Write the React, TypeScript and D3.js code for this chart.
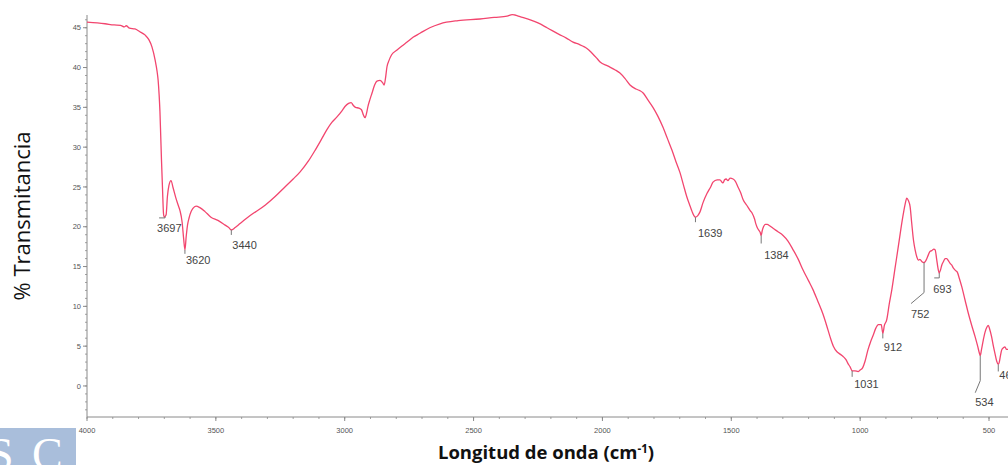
import React from "react";
import * as d3 from "d3";

// FTIR spectrum: wavenumber (cm-1) and % transmittance
const WAVENUMBERS = [
  4000, 3960, 3930, 3895, 3870, 3855, 3848, 3835, 3814, 3795, 3775, 3760, 3748, 3736, 3728, 3724, 3720, 3717,
  3714, 3711, 3707, 3703, 3700, 3697, 3693, 3688, 3682, 3674, 3666, 3655, 3645, 3639, 3631, 3625, 3620, 3615,
  3610, 3604, 3596, 3589, 3577, 3562, 3542, 3519, 3492, 3464, 3450, 3440, 3425, 3406, 3367, 3309, 3270, 3232,
  3200, 3173, 3140, 3115, 3090, 3069, 3050, 3030, 3010, 2999, 2985, 2975, 2968, 2958, 2945, 2935, 2927, 2921,
  2915, 2910, 2902, 2894, 2884, 2875, 2863, 2853, 2847, 2842, 2836, 2828, 2818, 2797, 2778, 2758, 2735, 2708,
  2670, 2630, 2560, 2475, 2420, 2370, 2350, 2340, 2320, 2280, 2250, 2215, 2170, 2140, 2114, 2090, 2070, 2060,
  2040, 2020, 2009, 1980, 1950, 1932, 1912, 1893, 1870, 1855, 1842, 1825, 1804, 1785, 1765, 1748, 1730, 1715,
  1699, 1686, 1672, 1660, 1652, 1645, 1639, 1630, 1621, 1610, 1594, 1580, 1571, 1555, 1544, 1536, 1532, 1526,
  1520, 1513, 1505, 1493, 1484, 1474, 1464, 1454, 1440, 1426, 1419, 1410, 1404, 1398, 1392, 1388, 1384, 1380,
  1375, 1368, 1361, 1350, 1338, 1320, 1299, 1280, 1260, 1240, 1222, 1200, 1183, 1165, 1144, 1130, 1117, 1104,
  1090, 1078, 1066, 1055, 1047, 1039, 1031, 1020, 1008, 1000, 990, 981, 970, 960, 949, 940, 929, 918, 912, 906,
  897, 887, 877, 865, 852, 842, 832, 825, 819, 813, 806, 800, 793, 786, 780, 774, 768, 760, 752, 748, 744, 735,
  729, 722, 714, 709, 703, 698, 693, 688, 683, 677, 670, 664, 657, 651, 645, 638, 630, 623, 615, 606, 593, 580,
  567, 554, 544, 538, 534, 529, 522, 515, 508, 503, 497, 490, 483, 477, 470, 464, 460, 455, 451, 444, 438, 432,
  426, 418, 410, 400,
];

const TRANSMITTANCE = [
  45.7, 45.6, 45.5, 45.35, 45.3, 45.1, 45.25, 44.95, 44.85, 44.5, 44.1, 43.5, 42.6, 41.0, 39.5, 38.4, 36.5, 34.5,
  31.5, 28.4, 24.8, 21.6, 21.2, 21.3, 21.5, 23.8, 25.2, 25.8, 24.9, 23.6, 22.6, 22.0, 20.6, 18.5, 17.1, 18.8,
  20.2, 21.1, 21.9, 22.3, 22.6, 22.4, 21.9, 21.2, 20.8, 20.2, 19.9, 19.6, 19.9, 20.4, 21.4, 22.7, 23.8, 25.0,
  26.0, 26.9, 28.3, 29.6, 31.0, 32.2, 33.1, 33.8, 34.6, 35.1, 35.5, 35.6, 35.3, 35.0, 34.9, 34.7, 34.0, 33.7,
  34.3, 35.1, 36.0, 36.8, 37.8, 38.3, 38.4, 38.1, 37.8, 38.6, 40.1, 40.9, 41.6, 42.2, 42.7, 43.2, 43.8, 44.3,
  45.0, 45.5, 45.9, 46.1, 46.3, 46.45, 46.65, 46.6, 46.4, 46.0, 45.6, 45.0, 44.2, 43.7, 43.2, 42.9, 42.6, 42.4,
  41.8, 41.1, 40.7, 40.2, 39.7, 39.3, 38.6, 37.8, 37.3, 37.1, 36.8, 36.0, 35.0, 33.9, 32.5, 31.1, 29.6, 28.2,
  26.8, 25.3, 23.7, 22.6, 21.9, 21.4, 21.2, 21.4, 21.9, 23.0, 24.2, 25.0, 25.6, 25.9, 25.9, 25.6, 25.5, 25.9,
  26.0, 25.8, 26.1, 26.0, 25.7, 25.0, 24.3, 23.4, 22.7, 22.0, 21.7, 21.0, 20.3, 19.8, 19.5, 19.3, 18.9, 19.5,
  20.0, 20.3, 20.3, 20.1, 19.8, 19.4, 18.9, 18.2, 17.1, 15.9, 14.6, 13.2, 12.1, 10.7, 9.0, 7.6, 6.2, 5.0,
  4.3, 4.0, 3.7, 3.3, 2.8, 2.4, 1.9, 1.9, 1.8, 2.0, 2.3, 3.1, 4.5, 5.5, 6.4, 7.2, 7.7, 7.7, 6.6, 7.6,
  8.3, 10.3, 12.1, 14.7, 17.5, 19.7, 21.7, 22.9, 23.6, 23.3, 22.5, 20.5, 18.3, 17.0, 16.2, 15.8, 15.9, 15.6, 15.5, 15.6, 15.8, 16.5,
  16.9, 17.0, 17.2, 17.1, 15.9, 14.8, 14.2, 14.6, 15.2, 15.6, 16.0, 16.0, 15.7, 15.4, 15.2, 14.8, 14.5, 14.3, 13.5, 12.5, 10.8, 9.1,
  7.6, 6.2, 5.0, 4.2, 3.8, 4.6, 5.8, 6.8, 7.4, 7.6, 7.1, 6.2, 5.0, 4.1, 3.1, 2.7, 3.0, 3.9, 4.5, 4.8, 4.9, 4.6,
  4.6, 4.9, 5.2, 5.0,
];

// Labelled absorption bands (cm-1)
const PEAK_LABELS = [3697, 3620, 3440, 1639, 1384, 1031, 912, 752, 693, 534, 464];

const X_TICKS = [4000, 3500, 3000, 2500, 2000, 1500, 1000, 500];
const Y_TICKS = [0, 5, 10, 15, 20, 25, 30, 35, 40, 45];

const X_DOMAIN: [number, number] = [4000, 400];
const Y_DOMAIN: [number, number] = [-3.9, 46.6];

// Leader line / label placement for each band, relative to the band minimum
const LABEL_LAYOUT: Record<number, { leader: [number, number][]; dx: number; dy: number }> = {
  3697: { leader: [[0, 0], [0, 1.5], [-6, 1.5]], dx: -8, dy: 16 },
  3620: { leader: [[0, 0], [0, 4]], dx: 1, dy: 14 },
  3440: { leader: [[0, 0], [0, 5]], dx: 1, dy: 19 },
  1639: { leader: [[0, 0], [0, 5]], dx: 2.5, dy: 19.5 },
  1384: { leader: [[0, 0], [0, 8]], dx: 3, dy: 23 },
  1031: { leader: [[0, 0], [0, 6]], dx: 2, dy: 17 },
  912: { leader: [[0, 0], [0, 5]], dx: 1, dy: 18 },
  752: { leader: [[0, 0], [0, 30], [-13, 41]], dx: -13, dy: 55 },
  693: { leader: [[0, 0], [0, 5], [-5, 5]], dx: -6, dy: 20 },
  534: { leader: [[0, 0], [0, 25], [-5, 37]], dx: -5, dy: 50 },
  464: { leader: [[0, 0], [0, 7]], dx: 1, dy: 15 },
};

const W = 1008;
const H = 465;

export default function App() {
  const x = d3.scaleLinear().domain(X_DOMAIN).range([87, 87 + (902 * 3600) / 3500]);
  const y = d3.scaleLinear().domain(Y_DOMAIN).range([417, 15]);

  const points = WAVENUMBERS.map((w, i) => [w, TRANSMITTANCE[i]] as [number, number]);
  const line = d3
    .line<[number, number]>()
    .x((d) => x(d[0]))
    .y((d) => y(d[1]))
    .curve(d3.curveMonotoneX);

  const valueAt = (w: number) => TRANSMITTANCE[WAVENUMBERS.indexOf(w)];

  const xMinor = d3.range(4000, 399, -100);
  const yMinor = d3.range(-3, 47, 1);
  const axisColor = "#8a8a8a";

  return (
    <svg
      width={W}
      height={H}
      style={{ position: "absolute", left: 0, top: 0, background: "#fff" }}
      fontFamily="'Liberation Sans', Arial, sans-serif"
    >
      {/* axes */}
      <line x1={87} x2={W} y1={417} y2={417} stroke={axisColor} strokeWidth={1} />
      <line x1={87} x2={87} y1={15} y2={417} stroke={axisColor} strokeWidth={1} />
      {xMinor.map((t) => (
        <line key={"xm" + t} x1={x(t)} x2={x(t)} y1={417} y2={419} stroke={axisColor} strokeWidth={0.8} />
      ))}
      {yMinor.map((t) => (
        <line key={"ym" + t} x1={85} x2={87} y1={y(t)} y2={y(t)} stroke={axisColor} strokeWidth={0.8} />
      ))}
      {X_TICKS.map((t) => (
        <g key={"xt" + t}>
          <line x1={x(t)} x2={x(t)} y1={417} y2={421} stroke={axisColor} strokeWidth={1} />
          <text x={x(t)} y={433} fontSize={7.5} fill="#555" textAnchor="middle">
            {t}
          </text>
        </g>
      ))}
      {Y_TICKS.map((t) => (
        <g key={"yt" + t}>
          <line x1={83} x2={87} y1={y(t)} y2={y(t)} stroke={axisColor} strokeWidth={1} />
          <text x={81} y={y(t) + 2.7} fontSize={7.5} fill="#555" textAnchor="end">
            {t}
          </text>
        </g>
      ))}

      {/* spectrum */}
      <path d={line(points) || ""} fill="none" stroke="#f2466f" strokeWidth={1.3} strokeLinejoin="round" />

      {/* band labels */}
      {PEAK_LABELS.map((w) => {
        const px = x(w);
        const py = y(valueAt(w));
        const lay = LABEL_LAYOUT[w];
        const leader = d3.line()(lay.leader.map(([dx, dy]) => [px + dx, py + dy] as [number, number]));
        return (
          <g key={"pk" + w}>
            <path d={leader || ""} fill="none" stroke="#777" strokeWidth={1} />
            <text x={px + lay.dx} y={py + lay.dy} fontSize={11} fill="#444">
              {w}
            </text>
          </g>
        );
      })}

      {/* axis titles */}
      <text
        transform={`translate(30,216) rotate(-90)`}
        textAnchor="middle"
        fontSize={22}
        fontFamily="'Open Sans', sans-serif"
        fill="#111"
      >
        % Transmitancia
      </text>
      <text x={546} y={459} textAnchor="middle" fontSize={18.5} fontWeight="bold" fontFamily="'Open Sans', sans-serif" fill="#111">
        Longitud de onda (cm
        <tspan dy={-6.5} fontSize={11.5}>-1</tspan>
        <tspan dy={6.5}>)</tspan>
      </text>

      {/* corner logo */}
      <defs>
        <clipPath id="logoClip">
          <rect x={0} y={428} width={76} height={37} />
        </clipPath>
      </defs>
      <rect x={0} y={428} width={76} height={37} fill="#a9bedb" />
      <g clipPath="url(#logoClip)" fill="#fff" fontFamily="'Liberation Serif', 'DejaVu Serif', serif" fontSize={46}>
        <text x={-12} y={470}>S</text>
        <text x={32} y={470}>C</text>
      </g>
    </svg>
  );
}
